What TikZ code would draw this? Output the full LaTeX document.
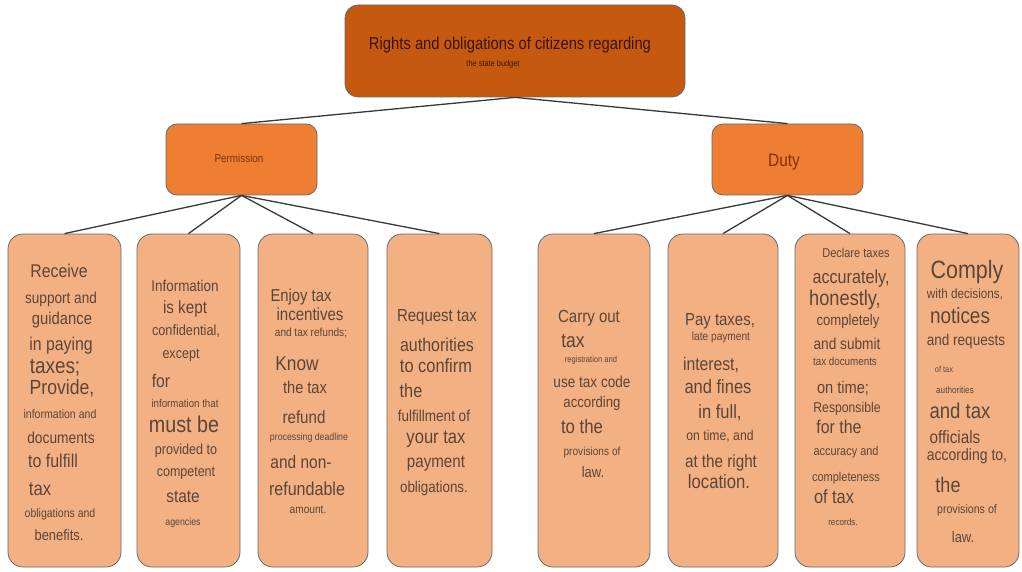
\documentclass[tikz,border=0pt]{standalone}
\usepackage{fontspec}
\setmainfont{Liberation Sans}[FakeStretch=0.86]
\begin{document}
\begin{tikzpicture}[x=1pt,y=-1pt,
  box/.style={draw=boxborder, line width=0.8pt, rounded corners=12pt, inner sep=0pt},
  rootbox/.style={box, fill=rootfill, rounded corners=13pt},
  midbox/.style={box, fill=midfill, rounded corners=11pt},
  leafbox/.style={box, fill=leaffill, rounded corners=15pt},
  link/.style={draw=linkcol, line width=1.3pt},
  txt/.style={inner sep=0pt, anchor=base, text=leaftext},
]
\definecolor{rootfill}{HTML}{C5590F}
\definecolor{midfill}{HTML}{EE7E32}
\definecolor{leaffill}{HTML}{F3B083}
\definecolor{boxborder}{HTML}{6A6A6A}
\definecolor{linkcol}{HTML}{383838}
\definecolor{leaftext}{HTML}{5A4639}
\definecolor{roottext}{HTML}{3A1305}
\definecolor{midtext}{HTML}{7A330E}
\useasboundingbox (0,0) rectangle (1022,572);

% boxes
\node[rootbox, minimum width=340pt, minimum height=92pt] (root) at (515,51) {};
\node[midbox, minimum width=151pt, minimum height=71pt] (perm) at (241.5,159.5) {};
\node[midbox, minimum width=151pt, minimum height=71pt] (duty) at (787.5,159.5) {};
\node[leafbox, minimum width=113pt, minimum height=333pt] (b1) at (64.5,400.5) {};
\node[leafbox, minimum width=103pt, minimum height=333pt] (b2) at (188.5,400.5) {};
\node[leafbox, minimum width=110pt, minimum height=333pt] (b3) at (313,400.5) {};
\node[leafbox, minimum width=105pt, minimum height=333pt] (b4) at (439.5,400.5) {};
\node[leafbox, minimum width=112pt, minimum height=333pt] (b5) at (594,400.5) {};
\node[leafbox, minimum width=110pt, minimum height=333pt] (b6) at (723,400.5) {};
\node[leafbox, minimum width=110pt, minimum height=333pt] (b7) at (850,400.5) {};
\node[leafbox, minimum width=102pt, minimum height=333pt] (b8) at (968,400.5) {};

% connectors
\draw[link] (root.south) -- (perm.north);
\draw[link] (root.south) -- (duty.north);
\foreach \b in {b1,b2,b3,b4} \draw[link] (perm.south) -- (\b.north);
\foreach \b in {b5,b6,b7,b8} \draw[link] (duty.south) -- (\b.north);

% top texts
\node[txt, text=roottext, font=\fontsize{17.2}{17.2}\selectfont] (roott1) at (510,50) {Rights and obligations of citizens regarding};
\node[txt, text=roottext, font=\fontsize{8.6}{8.6}\selectfont] (roott2) at (493,67) {the state budget};
\node[txt, text=midtext, font=\fontsize{11.5}{11.5}\selectfont] (permt) at (239,163) {Permission};
\node[txt, text=midtext, font=\fontsize{18}{18}\selectfont] (dutyt) at (784,167) {Duty};

% leaf texts
\foreach \x/\y/\s/\t [count=\i] in {
 59/277/18.4/{Receive}, 61/303/15.8/{support and}, 62/324/17.2/{guidance},
 61/350/18.4/{in paying}, 55/373/22/{taxes;}, 62/394/20.5/{Provide,},
 60/418/12.3/{information and}, 61/443/16/{documents}, 53/467/18.6/{to fulfill},
 40/495/19.4/{tax}, 60/517/12.2/{obligations and}, 59/540/15/{benefits.}}
 \node[txt, font=\fontsize{\s}{\s}\selectfont] (b1-\i) at (\x,\y) {\t};

\foreach \x/\y/\s/\t [count=\i] in {
 185/291/15.6/{Information}, 185/313/17.7/{is kept}, 186/335/14.8/{confidential,},
 181/358/14.6/{except}, 161/387/18.3/{for}, 185/407/11.3/{information that},
 184/432/22.9/{must be}, 186/454/14.6/{provided to}, 186/476/14.5/{competent},
 183/502/17.9/{state}, 183/525/10.2/{agencies}}
 \node[txt, font=\fontsize{\s}{\s}\selectfont] (b2-\i) at (\x,\y) {\t};

\foreach \x/\y/\s/\t [count=\i] in {
 301/301/17.2/{Enjoy tax}, 310/320/17.5/{incentives}, 311/336/11.7/{and tax refunds;},
 297/370/20.1/{Know}, 305/393/17/{the tax}, 304/423/17.6/{refund},
 309/440/10.2/{processing deadline}, 301/468/18/{and non-}, 307/495/18.7/{refundable},
 308/513/11.8/{amount.}}
 \node[txt, font=\fontsize{\s}{\s}\selectfont] (b3-\i) at (\x,\y) {\t};

\foreach \x/\y/\s/\t [count=\i] in {
 437/321/17.4/{Request tax}, 437/351/18.6/{authorities}, 436/372/19.1/{to confirm},
 411/397/19/{the}, 434/421/15.7/{fulfillment of}, 436/443/19.3/{your tax},
 436/467/17.6/{payment}, 434/492/15.6/{obligations.}}
 \node[txt, font=\fontsize{\s}{\s}\selectfont] (b4-\i) at (\x,\y) {\t};

\foreach \x/\y/\s/\t [count=\i] in {
 589/322/17.5/{Carry out}, 573/347/20.3/{tax}, 591/362/8.8/{registration and},
 592/387/15.8/{use tax code}, 592/407/15.3/{according}, 582/433/19.5/{to the},
 592/455/11.8/{provisions of}, 593/477/15.1/{law.}}
 \node[txt, font=\fontsize{\s}{\s}\selectfont] (b5-\i) at (\x,\y) {\t};

\foreach \x/\y/\s/\t [count=\i] in {
 720/325/17.4/{Pay taxes,}, 721/340/11.8/{late payment}, 711/370/18.3/{interest,},
 718/393/19.2/{and fines}, 720/418/19.2/{in full,}, 720/440/14.2/{on time, and},
 721/467/17.7/{at the right}, 719/488/19.4/{location.}}
 \node[txt, font=\fontsize{\s}{\s}\selectfont] (b6-\i) at (\x,\y) {\t};

\foreach \x/\y/\s/\t [count=\i] in {
 856/257/12.8/{Declare taxes}, 851/283/18.8/{accurately,}, 845/305/21.2/{honestly,},
 848/325/15.3/{completely}, 847/349/15.9/{and submit}, 845/365/11.4/{tax documents},
 843/393/17/{on time;}, 847/412/14.2/{Responsible}, 839/433/18.5/{for the},
 846/455/12.7/{accuracy and}, 846/481/12.8/{completeness}, 834/503/19/{of tax},
 843/525/9.5/{records.}}
 \node[txt, font=\fontsize{\s}{\s}\selectfont] (b7-\i) at (\x,\y) {\t};

\foreach \x/\y/\s/\t [count=\i] in {
 967/278/25/{Comply}, 965/298/13.6/{with decisions,}, 960/323/22/{notices},
 966/345/15.7/{and requests}, 944/372/8.6/{of tax}, 955/393/9.5/{authorities},
 960/418/21.6/{and tax}, 955/443/17.8/{officials}, 967/460/16.3/{according to,},
 948/492/21/{the}, 967/513/12.4/{provisions of}, 963/542/15/{law.}}
 \node[txt, font=\fontsize{\s}{\s}\selectfont] (b8-\i) at (\x,\y) {\t};
\end{tikzpicture}
\end{document}
